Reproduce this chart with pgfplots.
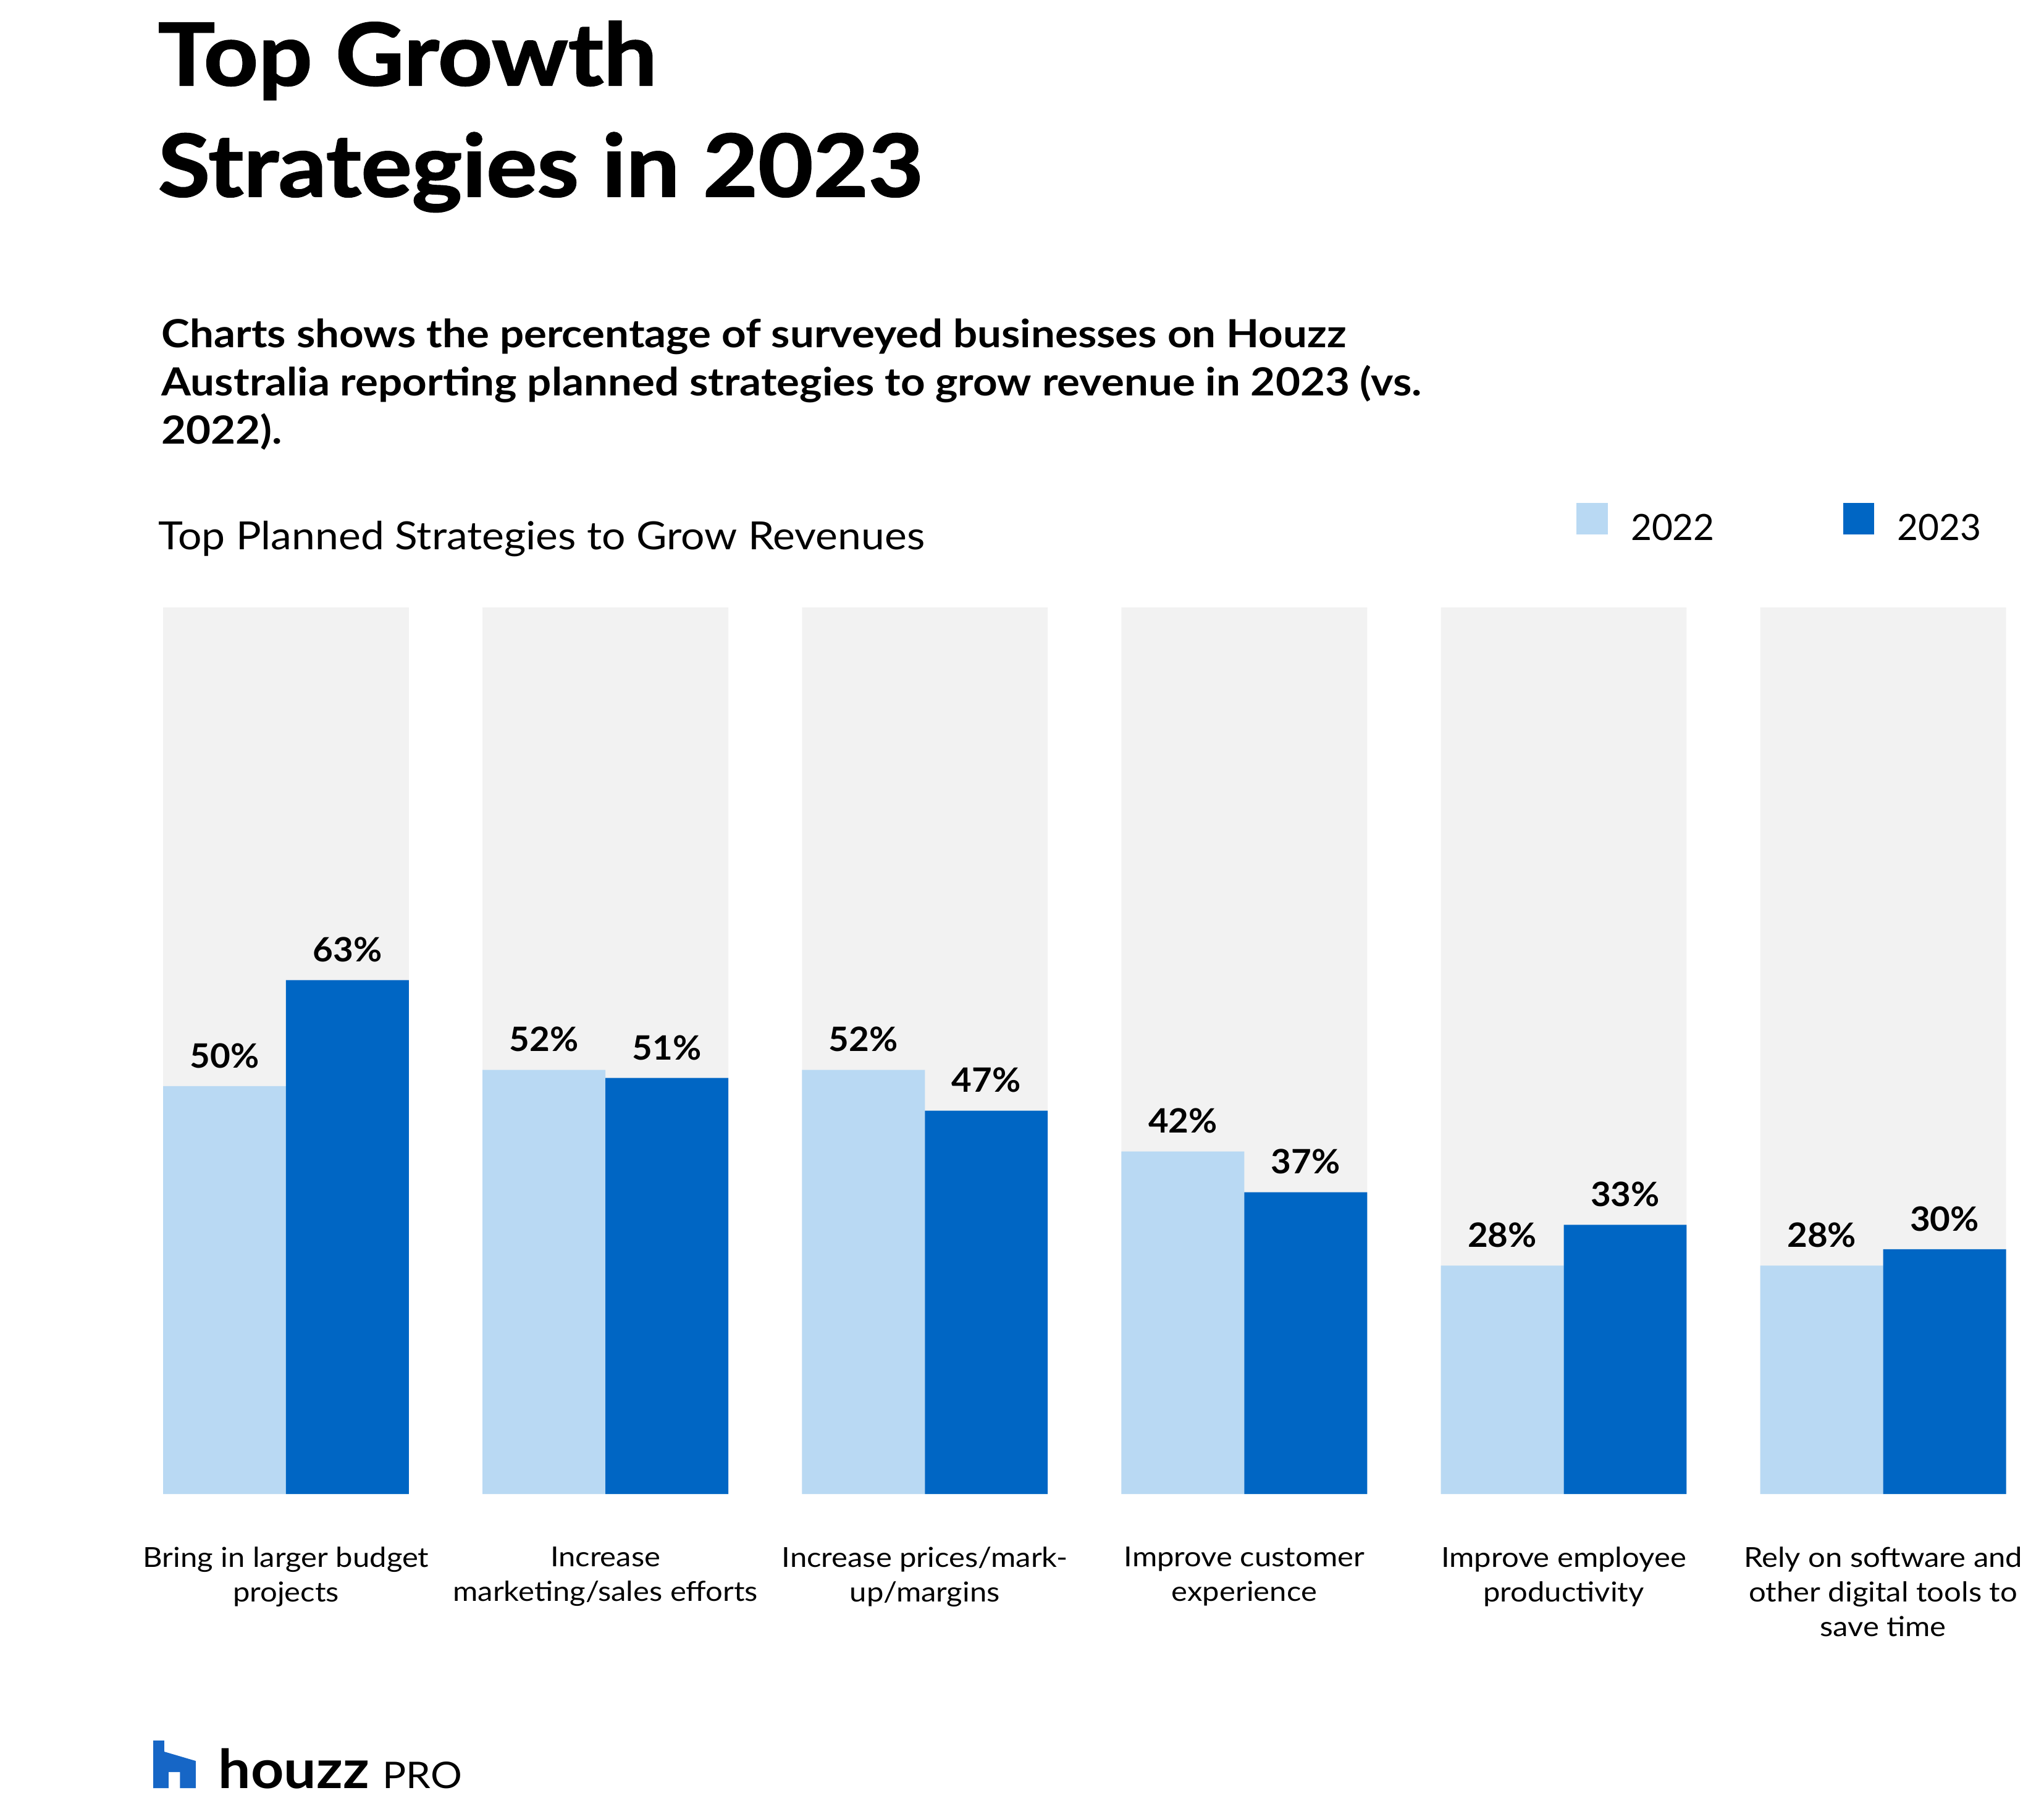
\documentclass[border=0pt]{standalone}
\usepackage{fontspec}
\setmainfont{Lato}[FakeStretch=1.1]
\newfontfamily\titlefont{Lato}[FakeStretch=1.1, BoldFeatures={FakeBold=1.5}]
\newfontfamily\numfont{Lato}[FakeStretch=1.04]
\newfontfamily\plainfont{Lato}
\newfontfamily\logofont{Lato}[FakeStretch=1.07]
\newfontfamily\chartfont{Lato}[FakeStretch=1.08]
\usepackage{pgfplots}
\pgfplotsset{compat=1.18}
\definecolor{lightbar}{RGB}{185,217,243}
\definecolor{darkbar}{RGB}{0,102,196}
\definecolor{greybg}{RGB}{242,242,242}
\definecolor{logoblue}{RGB}{22,102,198}
\begin{document}
\begin{tikzpicture}
\path[use as bounding box] (0,0) rectangle (780pt,688.78pt);
% titles
\node[anchor=base west, inner sep=0pt, font=\titlefont\bfseries\fontsize{33}{40}\selectfont] at (60.1pt,656.2pt) {Top Growth};
\node[anchor=base west, inner sep=0pt, font=\titlefont\bfseries\fontsize{33}{40}\selectfont] at (60.1pt,613.8pt) {Strategies in 2023};
\node[anchor=base west, inner sep=0pt, font=\bfseries\fontsize{14.8}{18}\selectfont] at (61.5pt,556.1pt) {Charts shows the percentage of surveyed businesses on Houzz};
\node[anchor=base west, inner sep=0pt, font=\bfseries\fontsize{14.8}{18}\selectfont] at (61.5pt,537.7pt) {Australia reporting planned strategies to grow revenue in 2023 (vs.};
\node[anchor=base west, inner sep=0pt, font=\bfseries\fontsize{14.8}{18}\selectfont] at (61.5pt,519.3pt) {2022).};
\node[anchor=base west, inner sep=0pt, font=\chartfont\fontsize{14.8}{18}\selectfont] at (60.3pt,479.0pt) {Top Planned Strategies to Grow Revenues};
\begin{axis}[
  at={(62.23pt,118.8pt)}, anchor=south west,
  scale only axis, width=703.3pt, height=338.26pt,
  xmin=-0.3848, xmax=5.3848, ymin=0, ymax=108.7,
  axis line style={draw=none},
  major tick length=0pt,
  ytick=\empty,
  xtick={0,1,2,3,4,5},
  xticklabels={
    {Bring in larger budget\\projects},
    {Increase\\marketing/sales efforts},
    {Increase prices/mark-\\up/margins},
    {Improve customer\\experience},
    {Improve employee\\productivity},
    {Rely on software and\\other digital tools to\\save time}},
  xticklabel style={align=center, anchor=north, inner sep=0pt, yshift=-20pt,
    font=\fontsize{10.5}{13.2}\selectfont, execute at begin node={\rule{0pt}{8pt}}},
  ybar, bar width=46.9pt,
  /pgf/number format/assume math mode=true,
  nodes near coords style={font=\numfont\bfseries\fontsize{12.8}{14}\selectfont, anchor=base, inner sep=0pt, yshift=7pt, text=black},
  legend columns=2,
  legend style={at={(0.767,1.0944)}, anchor=west, draw=none, fill=none, inner sep=0pt, outer sep=0pt,
    font=\plainfont\fontsize{13.8}{16}\selectfont, legend cell align=left,
    nodes={inner sep=0pt},
    /tikz/every odd column/.append style={column sep=8.7pt},
    /tikz/every even column/.append style={column sep=49pt}},
  legend image code/.code={\fill[#1] (0pt,-2pt) rectangle (11.95pt,9.95pt);},
]
\addplot[fill=greybg, draw=none, bar width=93.8pt, bar shift=0pt, forget plot]
  coordinates {(0,108.7) (1,108.7) (2,108.7) (3,108.7) (4,108.7) (5,108.7)};
\addplot[fill=lightbar, draw=none, bar shift=-23.45pt,
  nodes near coords={\pgfmathprintnumber{\pgfplotspointmeta}\%}]
  coordinates {(0,50) (1,52) (2,52) (3,42) (4,28) (5,28)};
\addplot[fill=darkbar, draw=none, bar shift=23.45pt,
  nodes near coords={\pgfmathprintnumber{\pgfplotspointmeta}\%}]
  coordinates {(0,63) (1,51) (2,47) (3,37) (4,33) (5,30)};
\legend{2022,2023}
\end{axis}
% logo
\fill[logoblue] (58.46pt,6.58pt) -- (58.46pt,24.73pt) -- (62.7pt,24.73pt) -- (62.7pt,20.49pt)
  -- (74.72pt,16.95pt) -- (74.72pt,6.58pt) -- (68.71pt,6.58pt) -- (68.71pt,12.71pt)
  -- (64.35pt,12.71pt) -- (64.35pt,6.58pt) -- cycle;
\node[anchor=base west, inner sep=0pt, font=\logofont\bfseries\fontsize{20.5}{24}\selectfont] at (83.2pt,6.58pt) {houzz};
\node[anchor=base west, inner sep=0pt, font=\logofont\fontsize{14}{16}\selectfont] at (145.9pt,6.58pt) {PRO};
\end{tikzpicture}
\end{document}
